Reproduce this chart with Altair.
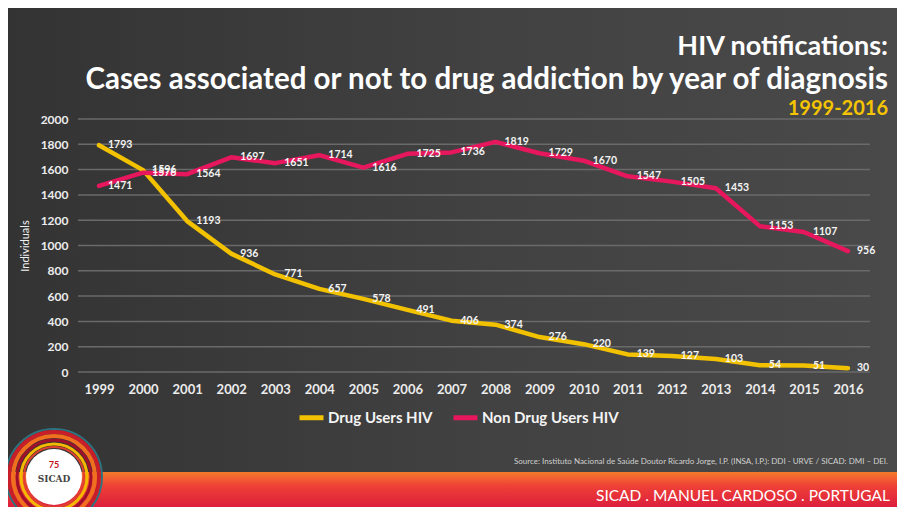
import altair as alt
import pandas as pd

# ---- data ----
years = list(range(1999, 2017))
drug_users = [1793, 1596, 1193, 936, 771, 657, 578, 491, 406, 374, 276, 220, 139, 127, 103, 54, 51, 30]
non_drug_users = [1471, 1576, 1564, 1697, 1651, 1714, 1616, 1725, 1736, 1819, 1729, 1670, 1547, 1505, 1453, 1153, 1107, 956]
series_names = ["Drug Users HIV", "Non Drug Users HIV"]
series_colors = ["#f2c200", "#e6175c"]
y_ticks = [0, 200, 400, 600, 800, 1000, 1200, 1400, 1600, 1800, 2000]

rows = []
for name, vals in zip(series_names, [drug_users, non_drug_users]):
    for yr, v in zip(years, vals):
        rows.append({"year": yr, "value": v, "series": name})
df = pd.DataFrame(rows)
ticks_df = pd.DataFrame({"value": y_ticks})

FONT = "Lato"
W, H = 792, 253
PAD = {"left": 70, "top": 111, "right": 27, "bottom": 135}

x_scale = alt.Scale(domain=[1998.523, 2016.5], nice=False, zero=False)
y_scale = alt.Scale(domain=[0, 2000], nice=False)

x_axis = alt.Axis(values=years, format="d", title=None, labelFontSize=13,
                  labelFont=FONT, labelFontWeight="bold", labelColor="#ececec",
                  labelPadding=11, ticks=False, domain=False, grid=False,
                  labelFlush=False, labelOverlap=False, zindex=1)
x_enc = alt.X("year:Q", scale=x_scale, title=None, axis=x_axis)
y_axis = alt.Axis(values=y_ticks, tickCount=11, format="d", title="Individuals",
                  titleFont=FONT, titleFontSize=11, titleFontWeight="normal",
                  titleColor="#f0f0f0", titlePadding=10, labelFontSize=12,
                  labelFont=FONT, labelFontWeight="bold", labelColor="#ececec",
                  labelPadding=10, ticks=False, domain=False, grid=False,
                  labelOverlap=False, zindex=1)
y_enc = alt.Y("value:Q", scale=y_scale, title="Individuals", axis=y_axis)

color_enc = alt.Color(
    "series:N",
    scale=alt.Scale(domain=series_names, range=series_colors),
    legend=alt.Legend(title=None, orient="none", legendX=219, legendY=284,
                      direction="horizontal", symbolType="stroke",
                      symbolStrokeWidth=5, symbolSize=576, labelFontSize=15,
                      labelFont=FONT, labelFontWeight="bold", labelColor="#f4f4f4",
                      columnPadding=10, labelOffset=2),
)

one = alt.Data(values=[{"k": 1}])


def deco_text(txt, x, y, size, color, weight="normal", align="right", font=FONT):
    return alt.Chart(one).mark_text(text=txt, align=align, baseline="middle",
                                    fontSize=size, fontWeight=weight, color=color,
                                    font=font).encode(x=alt.value(x), y=alt.value(y))


backdrop = alt.Chart(one).mark_rect(
    color=alt.Gradient(gradient="linear", x1=0, x2=1, y1=0, y2=0,
                       stops=[alt.GradientStop(offset=0, color="#333333"),
                              alt.GradientStop(offset=0.55, color="#424242"),
                              alt.GradientStop(offset=1, color="#4a4a4a")])
).encode(x=alt.value(-80), x2=alt.value(840), y=alt.value(-120), y2=alt.value(360))

grid = alt.Chart(ticks_df).mark_rule(color="#6a6a6a", strokeWidth=1.5).encode(
    y=y_enc
)

band = alt.Chart(one).mark_rect(
    color=alt.Gradient(gradient="linear", x1=0, x2=0, y1=0, y2=1,
                       stops=[alt.GradientStop(offset=0, color="#f47a2b"),
                              alt.GradientStop(offset=0.3, color="#ee4036"),
                              alt.GradientStop(offset=0.75, color="#dc1e3c"),
                              alt.GradientStop(offset=1, color="#b5102a")])
).encode(x=alt.value(-80), x2=alt.value(840), y=alt.value(353), y2=alt.value(400))

base = alt.Chart(df)
lines = base.mark_line(strokeWidth=4.5, strokeJoin="round", strokeCap="round").encode(
    x=x_enc, y=y_enc, color=color_enc
)
labels = base.mark_text(align="left", baseline="middle", dx=9, font=FONT,
                        fontSize=10.5, fontWeight="bold", color="#f4f4f4").encode(
    x=x_enc, y=y_enc, text="value:Q"
)


def ring(r, color, sw, filled=False):
    return alt.Chart(one).mark_point(shape="circle", filled=filled, opacity=1,
                                     strokeWidth=sw, color=color, size=(2 * r) ** 2).encode(
        x=alt.value(-24), y=alt.value(358))


logo = [
    ring(48, "#2b7480", 2),
    ring(45, "#c81e2a", 4),
    ring(41, "#f07020", 4),
    ring(37, "#a0102a", 3),
    ring(33, "#f5b800", 3),
    ring(30, "#e04030", 2),
    ring(28, "#ffffff", 1, filled=True),
    deco_text("SICAD", -24, 360, 9, "#444444", weight="bold", align="center",
              font="DejaVu Serif"),
    deco_text("75", -24, 346, 9, "#c01020", weight="bold", align="center"),
]

titles = [
    deco_text("HIV notifications:", 810, -72, 27, "#ffffff", weight="bold"),
    deco_text("Cases associated or not to drug addiction by year of diagnosis",
              810, -39, 29.5, "#ffffff", weight="bold"),
    deco_text("1999-2016", 810, -10, 20, "#f5c400", weight="bold"),
    deco_text("Source: Instituto Nacional de Saúde Doutor Ricardo Jorge, I.P. (INSA, I.P.): DDI - URVE / SICAD: DMI – DEI.",
              810, 343, 8, "#d0d0d0"),
    deco_text("SICAD . MANUEL CARDOSO . PORTUGAL", 812, 377, 15.5, "#ffffff"),
]

chart = alt.layer(backdrop, band, grid, lines, labels, *titles, *logo).properties(
    width=W, height=H, padding=PAD,
    autosize=alt.AutoSizeParams(type="none"),
    background="#3b3b3b",
).configure_view(stroke=None)

chart.save("out.html", embed_options={"renderer": "svg", "actions": False})
